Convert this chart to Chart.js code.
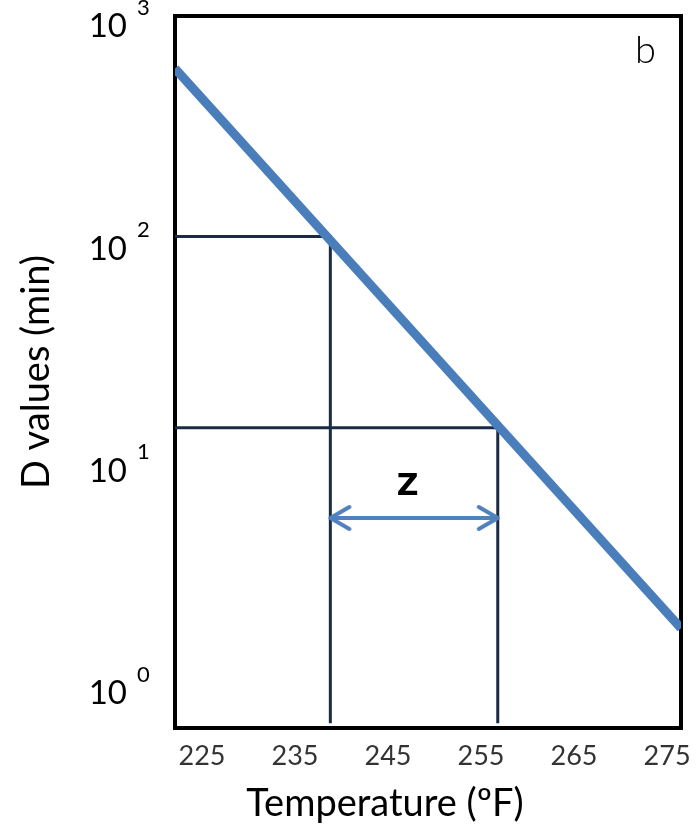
<!DOCTYPE html>
<html>
<head>
<meta charset="utf-8">
<title>D values vs temperature</title>
<script src="https://cdn.jsdelivr.net/npm/chart.js@4.4.1/dist/chart.umd.min.js"></script>
<style>
  body { margin: 0; background: #fff; }
  #wrap { width: 698px; height: 835px; }
</style>
</head>
<body>
<div id="wrap"><canvas id="dChart" width="698" height="835"></canvas></div>
<script>
// temperature axis (°F)
const tempTicks = [225, 235, 245, 255, 265, 275];
const tempRange = [222.1, 276.5];
const tempTitle = "Temperature (ºF)";

// D value axis (min), log scale
const dTicks = [1, 10, 100, 1000];
const dRange = [0.735, 1119];
const dTitle = "D values (min)";

// the thermal death time line
const lineTemps = [222.1, 276.5];
const lineD = [650, 1.97];

// guide lines dropped from the line to the axes
const guideHighTemps = [222.1, 238.8, 238.8];
const guideHighD = [114, 114, 0.735];
const guideLowTemps = [222.1, 256.8, 256.8];
const guideLowD = [15.7, 15.7, 0.735];

// z arrow between the two temperatures
const zTemps = [238.8, 256.8];
const zD = [6.17, 6.17];
const zLabelTemp = 247.1;

const pts = (xs, ys) => xs.map((t, i) => ({ x: t, y: ys[i] }));

// open chevron used as arrow head, dir 1 = points right, -1 = points left
function arrowHead(dir) {
    const c = document.createElement("canvas");
    c.width = 48;
    c.height = 30;
    const g = c.getContext("2d");
    g.strokeStyle = "#4f81bd";
    g.lineWidth = 4;
    g.lineCap = "round";
    g.lineJoin = "round";
    g.beginPath();
    g.moveTo(24 - dir * 19, 4);
    g.lineTo(24, 15);
    g.lineTo(24 - dir * 19, 26);
    g.stroke();
    return c;
}

const extras = {
    id: "extras",
    beforeDatasetsDraw(chart) {
        const { ctx, chartArea: a } = chart;
        ctx.save();
        ctx.strokeStyle = "#000";
        ctx.lineWidth = 4;
        ctx.strokeRect(a.left, a.top, a.right - a.left, a.bottom - a.top);
        ctx.restore();
    },
    afterDraw(chart) {
        const { ctx, chartArea: a, scales: { x, y } } = chart;
        ctx.save();
        ctx.fillStyle = "#000";

        // exponents next to the "10" tick labels
        ctx.font = "22px Lato";
        ctx.textAlign = "left";
        ctx.textBaseline = "middle";
        y.ticks.forEach(t => {
            const exp = Math.round(Math.log10(t.value));
            ctx.fillText(String(exp), y.right - 38, y.getPixelForValue(t.value) - 19);
        });

        // z label over the arrow
        ctx.font = "bold 30px 'DejaVu Sans'";
        ctx.textAlign = "center";
        ctx.fillText("Z", x.getPixelForValue(zLabelTemp), y.getPixelForValue(zD[0]) - 31);

        // panel letter
        ctx.font = "300 38px Lato";
        ctx.textAlign = "left";
        ctx.textBaseline = "alphabetic";
        ctx.fillText("b", a.right - 46, a.top + 47);

        // x axis title, sits left of the axis centre in the original
        ctx.font = "38px Lato";
        ctx.textAlign = "center";
        ctx.fillText(tempTitle, a.left + 210, chart.height - 19);
        ctx.restore();
    }
};

new Chart(document.querySelector("#dChart"), {
    type: "line",
    data: {
        datasets: [
            {
                data: pts(lineTemps, lineD),
                borderColor: "#4a7ebb",
                borderWidth: 9,
                pointRadius: 0
            },
            {
                data: pts(zTemps, zD),
                borderColor: "#4f81bd",
                borderWidth: 4,
                pointStyle: [arrowHead(-1), arrowHead(1)],
                pointRadius: 12
            },
            {
                data: pts(guideHighTemps, guideHighD),
                borderColor: "#1c2b44",
                borderWidth: 3,
                pointRadius: 0
            },
            {
                data: pts(guideLowTemps, guideLowD),
                borderColor: "#1c2b44",
                borderWidth: 3,
                pointRadius: 0
            }
        ]
    },
    options: {
        responsive: false,
        animation: false,
        events: [],
        layout: { padding: { top: 15, right: 17, left: 0, bottom: 0 } },
        plugins: { legend: { display: false }, tooltip: { enabled: false } },
        scales: {
            x: {
                type: "linear",
                min: tempRange[0],
                max: tempRange[1],
                afterBuildTicks: s => { s.ticks = tempTicks.map(v => ({ value: v })); },
                afterFit: s => {
                    s.height = 107;
                    s.paddingLeft = 0;
                    s.paddingRight = 0;
                },
                grid: { display: false, drawTicks: false },
                border: { display: false },
                ticks: {
                    color: "#333",
                    font: { family: "Lato", size: 27 },
                    padding: 12,
                    maxRotation: 0,
                    autoSkip: false
                },
                title: { display: false }
            },
            y: {
                type: "logarithmic",
                min: dRange[0],
                max: dRange[1],
                afterBuildTicks: s => { s.ticks = dTicks.map(v => ({ value: v })); },
                afterFit: s => {
                    s.width = 175;
                    s.paddingTop = 0;
                    s.paddingBottom = 0;
                },
                grid: { display: false, drawTicks: false },
                border: { display: false },
                ticks: {
                    color: "#000",
                    font: { family: "Lato", size: 33 },
                    padding: 48,
                    autoSkip: false,
                    callback: () => "10"
                },
                title: {
                    display: true,
                    text: dTitle,
                    color: "#000",
                    font: { family: "Lato", size: 38 },
                    padding: { top: 14, bottom: 0 }
                }
            }
        }
    },
    plugins: [extras]
});
</script>
</body>
</html>
